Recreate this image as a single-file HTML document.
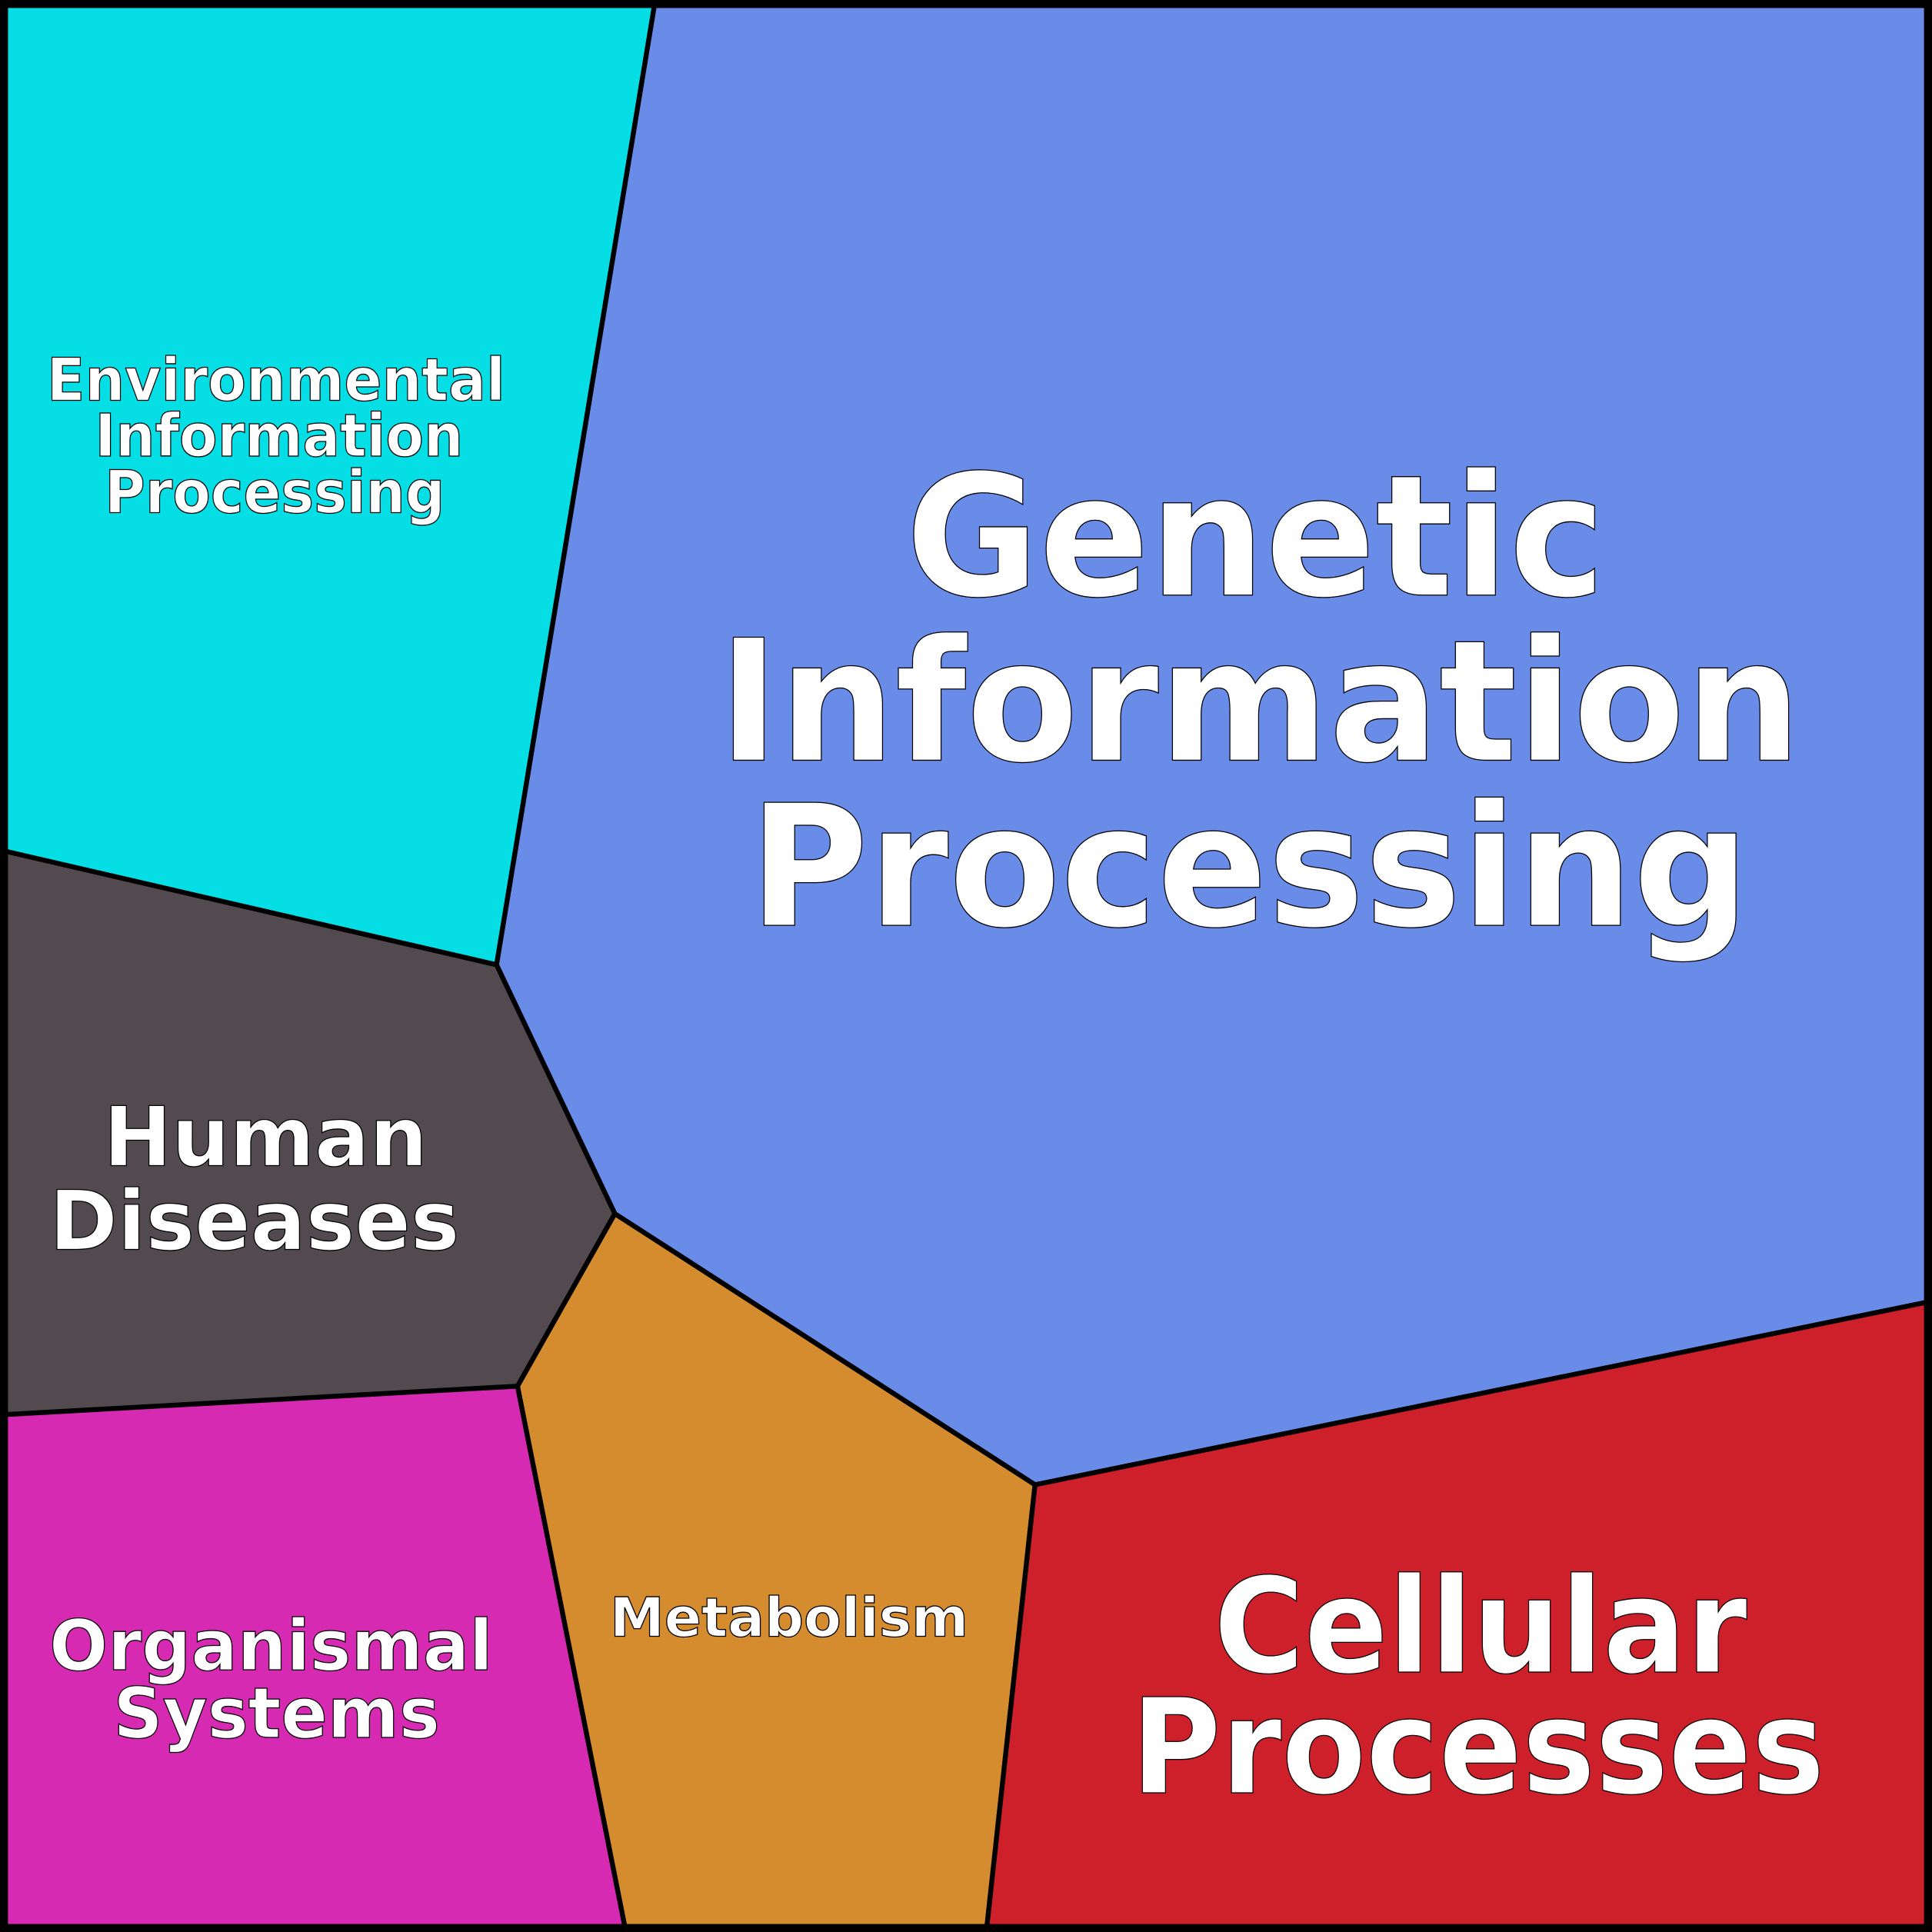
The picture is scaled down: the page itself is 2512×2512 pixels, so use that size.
<!DOCTYPE html>
<html><head><meta charset="utf-8"><style>
html,body{margin:0;padding:0;background:#000;}
svg{display:block;}
text{font-family:"DejaVu Sans","Liberation Sans",sans-serif;font-weight:bold;fill:#fff;stroke:#000;stroke-width:0.8;text-anchor:start;}
</style></head><body>
<svg width="2512" height="2512" viewBox="0 0 1568 1568" xmlns="http://www.w3.org/2000/svg">
<rect x="0" y="0" width="1568" height="1568" fill="#000"/>
<polygon points="5,5 531,5 403,783 5,691" fill="#05dee5"/>
<polygon points="531,5 1563,5 1563,1057 840,1205 499,985 403,783" fill="#688ce8"/>
<polygon points="5,691 403,783 499,985 420,1125 5,1148" fill="#524a4f"/>
<polygon points="5,1148 420,1125 507,1563 5,1563" fill="#d62ab3"/>
<polygon points="420,1125 499,985 840,1205 801,1563 507,1563" fill="#d48c2e"/>
<polygon points="840,1205 1563,1057 1563,1563 801,1563" fill="#ce202b"/>
<g fill="none" stroke="#000" stroke-width="4" stroke-linejoin="round">
<polyline points="531,5 403,783 5,691"/>
<polyline points="403,783 499,985 420,1125 5,1148"/>
<polyline points="420,1125 507,1563"/>
<polyline points="499,985 840,1205 801,1563"/>
<polyline points="840,1205 1563,1057"/>
</g>
<rect x="3" y="3" width="1562" height="1562" fill="none" stroke="#000" stroke-width="7"/>

<text x="735" y="483" font-size="137" textLength="568" lengthAdjust="spacingAndGlyphs">Genetic</text>
<text x="583" y="617" font-size="137" textLength="879" lengthAdjust="spacingAndGlyphs">Information</text>
<text x="608" y="751" font-size="137" textLength="812" lengthAdjust="spacingAndGlyphs">Processing</text>

<text x="985" y="1357" font-size="107" textLength="433" lengthAdjust="spacingAndGlyphs">Cellular</text>
<text x="918" y="1455" font-size="107" textLength="563" lengthAdjust="spacingAndGlyphs">Processes</text>

<text x="84" y="946" font-size="67" textLength="263" lengthAdjust="spacingAndGlyphs">Human</text>
<text x="40" y="1014" font-size="67" textLength="333" lengthAdjust="spacingAndGlyphs">Diseases</text>

<text x="38" y="325" font-size="48" textLength="372" lengthAdjust="spacingAndGlyphs">Environmental</text>
<text x="77" y="370" font-size="48" textLength="299" lengthAdjust="spacingAndGlyphs">Information</text>
<text x="85" y="416" font-size="48" textLength="276" lengthAdjust="spacingAndGlyphs">Processing</text>

<text x="40" y="1355" font-size="57" textLength="360" lengthAdjust="spacingAndGlyphs">Organismal</text>
<text x="92" y="1410" font-size="57" textLength="265" lengthAdjust="spacingAndGlyphs">Systems</text>

<text x="495" y="1328" font-size="44" textLength="291" lengthAdjust="spacingAndGlyphs">Metabolism</text>
</svg>
</body></html>
